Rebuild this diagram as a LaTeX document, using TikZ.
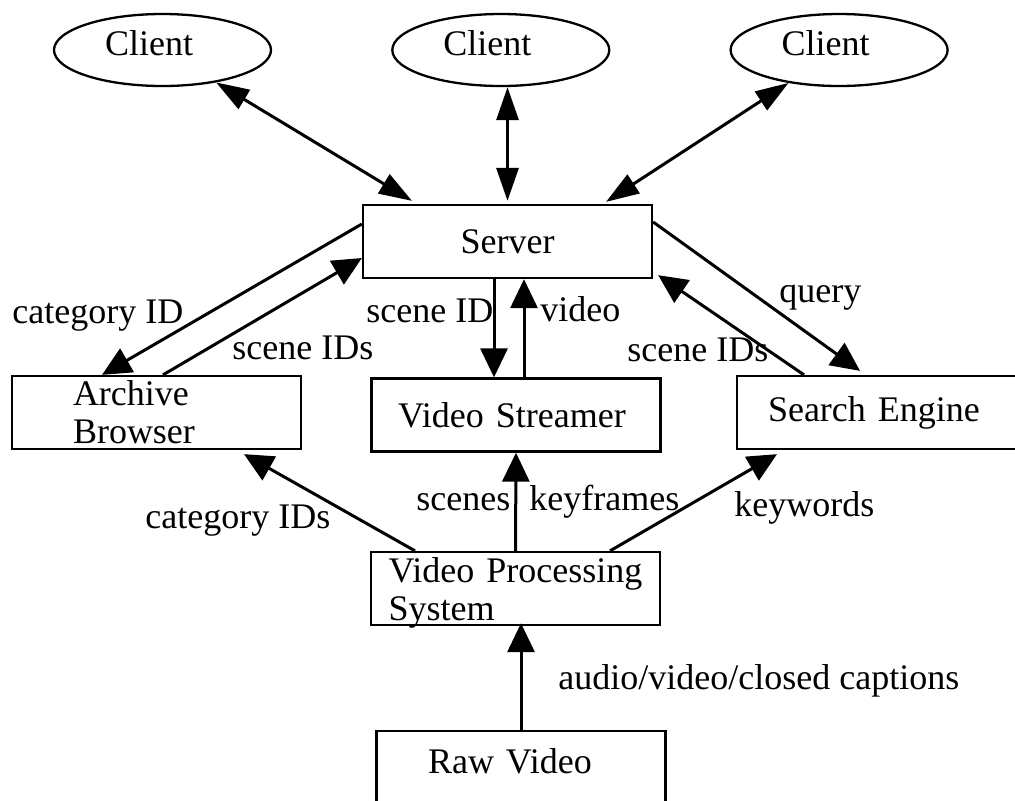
\documentclass[tikz,border=0pt]{standalone}
\usepackage{fontspec}
\setmainfont{Liberation Serif}
\usetikzlibrary{arrows.meta,calc,positioning,shapes.geometric}
\tikzset{
	box/.style={draw,line width=1.15pt,rectangle,minimum width=144.5pt,minimum height=36.5pt,inner sep=0.5pt,align=left},
	client/.style={draw,line width=1.15pt,ellipse,minimum width=108.5pt,minimum height=36pt,inner sep=1pt,
		text width=57.5pt,align=left,text depth=7pt},
	lbl/.style={anchor=base west,inner sep=0pt},
	ar/.style={line width=1.5pt,-{Triangle[length=14.5pt,width=13.5pt]}},
	car/.style={line width=1.5pt,{Triangle[length=16.5pt,width=11pt]}-{Triangle[length=16.5pt,width=11pt]}}
}

\begin{document}
\begin{tikzpicture}[x=0.5pt,y=-0.5pt,font=\fontsize{18}{19}\selectfont]
      \useasboundingbox (0,0) rectangle (1015,800);
      \clip (0,0) rectangle (1015,800);
      % clients
      \node[client] (c1) at (162.5,50) {Client};
      \node[client,right=59.5pt of c1] (c2) {Client};
      \node[client,right=59.5pt of c2] (c3) {Client};
      % boxes
      \node[box] (server) at (507.5,241.5) {Server};
      \node[box,text width=83.5pt] (archive) at (156.5,412.5) {Archive\\Browser};
      \node[box,text width=118pt] (streamer) at (516,415) {Video Streamer};
      \node[box,text width=113.5pt] (search) at (881.5,412.5) {Search Engine};
      \node[box,text width=127pt,text depth=19pt] (vps) at (515.5,588.5) {Video~Processing\\System};
      \node[box,text width=93pt,text depth=6.8pt] (raw) at (521,767.5) {Raw Video};
      % client links
      \draw[car] (c1) -- ([xshift=-47.75pt,yshift=1.5pt]server.north);
      \draw[car] (c2.south -| server.north) -- ([yshift=1.5pt]server.north);
      \draw[car] (c3) -- ([xshift=49.25pt,yshift=1pt]server.north);
      % server <-> tools
      \draw[ar] ([yshift=8.75pt]server.west) -- ([xshift=-27.25pt]archive.north);
      \draw[ar] ([xshift=3.25pt]archive.north) -- ([yshift=-8.25pt]server.west);
      \draw[ar] ([xshift=-6.75pt]server.south) -- ([xshift=-11pt]streamer.north);
      \draw[ar] ([xshift=4pt]streamer.north) -- ([xshift=8.25pt]server.south);
      \draw[ar] ([yshift=9.75pt]server.east) -- ([xshift=-10.75pt,yshift=2pt]search.north);
      \draw[ar] ([xshift=-38.75pt]search.north) -- ([xshift=2.5pt,yshift=2pt]server.south east);
      % processing outputs
      \draw[ar] ([xshift=-50.25pt]vps.north) -- ([xshift=43.75pt,yshift=-2pt]archive.south);
      \draw[ar] (vps.north) -- (streamer.south);
      \draw[ar] ([xshift=47.25pt]vps.north) -- ([xshift=-52.25pt,yshift=-2pt]search.south);
      \draw[ar,shorten >=-1.5pt] (raw.north) -- (raw.north |- vps.south);
      % edge labels
      \node[lbl] (lcatid) at (12,323) {category ID};
      \node[lbl] (lsidsa) at (232,359) {scene IDs};
      \node[lbl] (lsid) at (366,322) {scene ID};
      \node[lbl] (lvideo) at (540,321) {video};
      \node[lbl] (lquery) at (779,302) {query};
      \node[lbl] (lsidsb) at (627,361) {scene IDs};
      \node[lbl] (lcatids) at (145,528) {category IDs};
      \node[lbl] (lscenes) at (416,510) {scenes};
      \node[lbl] (lkeyfr) at (529,510) {keyframes};
      \node[lbl] (lkeyw) at (734,516) {keywords};
      \node[lbl] (lavc) at (558,689) {audio/video/closed captions};
   \end{tikzpicture}
\end{document}
